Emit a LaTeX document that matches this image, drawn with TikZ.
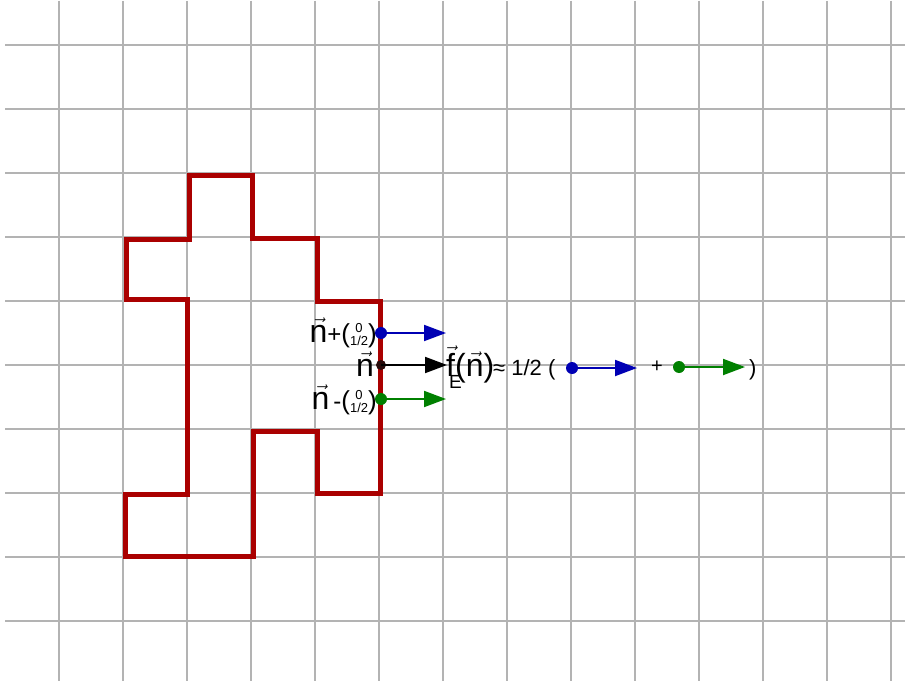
\documentclass[tikz,border=0pt]{standalone}
\usepackage{fontspec}
\setmainfont{Liberation Sans}
\usetikzlibrary{arrows.meta}
\definecolor{gridgray}{RGB}{179,179,179}
\definecolor{redline}{RGB}{170,0,0}
\definecolor{bluec}{RGB}{0,0,180}
\definecolor{greenc}{RGB}{0,128,0}
\definecolor{darkdot}{RGB}{40,10,10}
\newcommand\vn[1]{\ensuremath{\vec{\mbox{#1}}}}
\newcommand\fsz[1]{\fontsize{#1}{#1}\selectfont}
\newcommand\colvec{{\fsz{26}(}\raisebox{-3pt}{\fsz{13}\shortstack{0\\1/2}}{\fsz{26})}}
\tikzset{
  gridline/.style={draw=gridgray, line width=2pt},
  redpath/.style={draw=redline, line width=5pt, line join=miter},
  dotnode/.style={circle, inner sep=0pt, minimum size=#1},
  vecarrow/.style={line width=2pt, -{Triangle[length=22pt,width=16pt]}},
  lbl/.style={inner sep=0pt, font=\fsz{32}},
}
\begin{document}
\begin{tikzpicture}[x=1pt,y=-1pt]
\useasboundingbox (0,0) rectangle (905,685);
\fill[white] (0,0) rectangle (905,685);
% grid
\foreach \xx in {59,123,...,891} \draw[gridline] (\xx,1) -- (\xx,681);
\foreach \yy in {45,109,...,621} \draw[gridline] (5,\yy) -- (905,\yy);
% red outline
\draw[redpath] (189,175) -- (252,175) -- (252,238) -- (317,238) -- (317,301) -- (380,301)
  -- (380,493) -- (317,493) -- (317,431) -- (253,431) -- (253,556) -- (125,556)
  -- (125,494) -- (187,494) -- (187,299) -- (126,299) -- (126,239) -- (189,239) -- cycle;
% dots and arrows at the boundary
\node[dotnode=12pt, fill=bluec] (bp) at (381,333) {};
\coordinate (bpe) at (446,333);
\draw[vecarrow, bluec] (bp.center) -- (bpe);
\node[dotnode=10pt, fill=darkdot] (bn) at (381,365) {};
\coordinate (bne) at (447,365);
\draw[vecarrow, black] (bn.center) -- (bne);
\node[dotnode=12pt, fill=greenc] (bm) at (381,399) {};
\coordinate (bme) at (446,399);
\draw[vecarrow, greenc] (bm.center) -- (bme);
% labels
\node[lbl, anchor=base east] (lp) at (377,342) {\vn{n}{\fsz{24}+}\colvec};
\node[lbl, anchor=base east] (ln) at (374,376) {\vn{n}};
\node[lbl, anchor=base east] (lm) at (377,409) {\vn{n}{\fsz{24}\,-}\colvec};
% formula
\node[lbl, anchor=base west] (f) at (446,376) {\vn{f}(\vn{n})};
\node[inner sep=0pt, anchor=north west, font=\fsz{19}] (E) at (449,375) {E};
\node[inner sep=0pt, anchor=base west, font=\fsz{22}] (approx) at (493,375) {≈ 1/2 (};
\node[dotnode=12pt, fill=bluec] (b2) at (572,368) {};
\coordinate (b2e) at (637,368);
\draw[vecarrow, bluec] (b2.center) -- (b2e);
\node[inner sep=0pt, anchor=base, font=\fsz{20}] (plus) at (657,372) {+};
\node[dotnode=12pt, fill=greenc] (g2) at (679,367) {};
\coordinate (g2e) at (745,367);
\draw[vecarrow, greenc] (g2.center) -- (g2e);
\node[inner sep=0pt, anchor=base west, font=\fsz{22}] (close) at (749,375) {)};
\end{tikzpicture}
\end{document}
